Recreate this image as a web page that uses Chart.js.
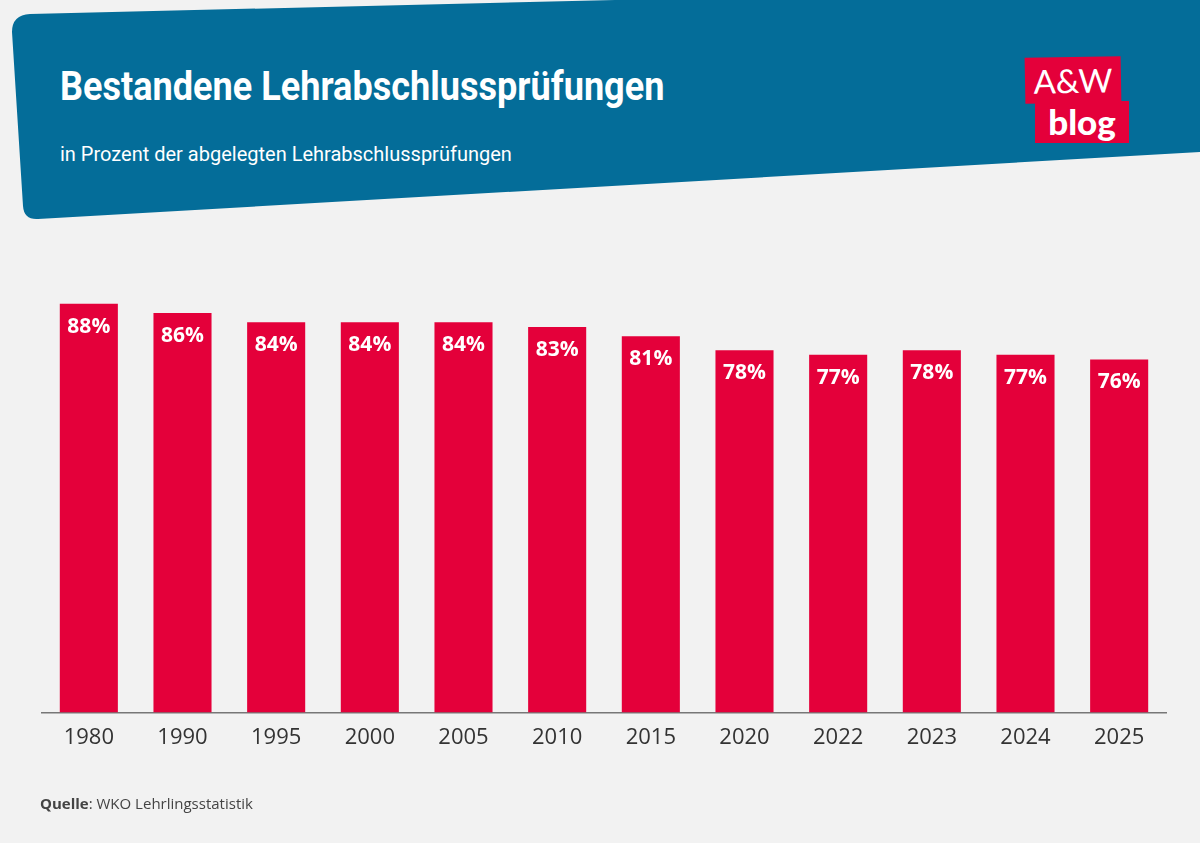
<!DOCTYPE html>
<html>
<head>
<meta charset="utf-8">
<script src="https://cdn.jsdelivr.net/npm/chart.js@4"></script>
<style>
  html, body { margin: 0; padding: 0; background: #f2f2f2; }
  #wrap { position: relative; width: 1200px; height: 843px; overflow: hidden; background: #f2f2f2; }
  #banner { position: absolute; left: 0; top: 0; }
  #title { position: absolute; left: 60px; top: 62px; color: #fff; font: bold 41px "Roboto", sans-serif; transform: scaleX(0.88); transform-origin: left top; white-space: nowrap; }
  #subtitle { position: absolute; left: 60px; top: 142px; color: #fff; font: 20px "Roboto", sans-serif; }
  .logo { position: absolute; background: #e4003a; color: #fff; text-align: center; }
  #logo1 { left: 1025px; top: 57px; width: 96px; height: 46px; font: 33px "Lato", sans-serif; line-height: 46px; transform: rotate(-1deg); }
  #logo2 { left: 1035px; top: 101px; width: 94px; height: 42px; font: 900 35px "Lato", sans-serif; line-height: 40px; }
  #source { position: absolute; left: 40px; top: 793px; color: #444; font: 15px "Open Sans", sans-serif; }
  #chart { position: absolute; left: 0; top: 0; }
</style>
</head>
<body>
<div id="wrap">
  <svg id="banner" width="1200" height="230">
    <path d="M 30 14 L 1200 -14 L 1200 152 L 38 219 Q 24 220 23 206 L 12 32 Q 12 15 30 14 Z" fill="#046d99"/>
  </svg>
  <div id="title">Bestandene Lehrabschlussprüfungen</div>
  <div id="subtitle">in Prozent der abgelegten Lehrabschlussprüfungen</div>
  <div class="logo" id="logo1">A&amp;W</div>
  <div class="logo" id="logo2">blog</div>
  <canvas id="chart" width="1200" height="843"></canvas>
  <div id="source"><b>Quelle</b>: WKO Lehrlingsstatistik</div>
</div>
<script>
let years = ["1980", "1990", "1995", "2000", "2005", "2010", "2015", "2020", "2022", "2023", "2024", "2025"];
let passRates = [88, 86, 84, 84, 84, 83, 81, 78, 77, 78, 77, 76];

let barLabels = {
    id: "barLabels",
    afterDatasetsDraw(chart) {
        let c = chart.ctx;
        let meta = chart.getDatasetMeta(0);
        c.save();
        c.fillStyle = "#ffffff";
        c.font = "bold 21px 'Open Sans', sans-serif";
        c.textAlign = "center";
        c.textBaseline = "middle";
        meta.data.forEach(function (bar, i) {
            c.fillText(passRates[i] + "%", bar.x, bar.y + 23);
        });
        c.restore();
    }
};

let ctx = document.getElementById("chart").getContext("2d");
let passChart = new Chart(ctx, {
    type: "bar",
    data: {
        labels: years,
        datasets: [{
            data: passRates,
            backgroundColor: "#e4003a",
            categoryPercentage: 1,
            barPercentage: 0.62
        }]
    },
    options: {
        responsive: false,
        animation: false,
        layout: { padding: { left: 42, right: 34, top: 248, bottom: 88 } },
        plugins: { legend: { display: false }, tooltip: { enabled: false } },
        scales: {
            x: {
                grid: { display: false },
                border: { display: true, color: "#777777", width: 1.5 },
                ticks: { color: "#333333", font: { family: "'Open Sans', sans-serif", size: 22 }, padding: 4 }
            },
            y: {
                display: false,
                min: 0,
                max: 100
            }
        }
    },
    plugins: [barLabels]
});
</script>
</body>
</html>
